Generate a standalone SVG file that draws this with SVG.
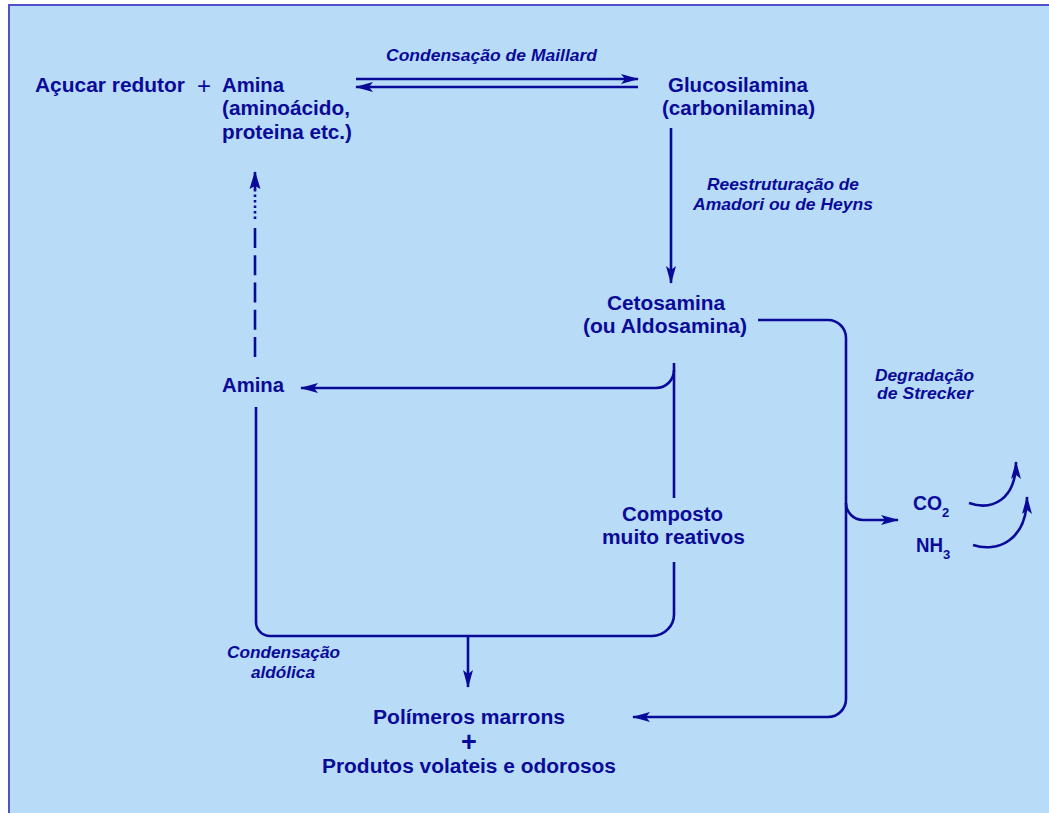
<svg xmlns="http://www.w3.org/2000/svg" width="1049" height="813" viewBox="0 0 1049 813">
<style>
.t{font-family:"Liberation Sans",Arial,sans-serif;font-weight:bold;fill:#0a0a99;font-size:20px}
.i{font-family:"Liberation Sans",Arial,sans-serif;font-weight:bold;font-style:italic;fill:#0a0a99;font-size:17px}
.c{fill:none;stroke:#0a0a99;stroke-width:2.6}
</style>
<defs>
<marker id="ah" markerUnits="userSpaceOnUse" markerWidth="18" markerHeight="11" refX="17" refY="5.5" orient="auto-start-reverse" viewBox="0 0 18 11">
<path d="M0,0.5 L18,5.5 L0,10.5 L4,5.5 z" fill="#0a0a99"/>
</marker>
<marker id="ahw" markerUnits="userSpaceOnUse" markerWidth="18" markerHeight="12" refX="17" refY="6" orient="auto" viewBox="0 0 18 12">
<path d="M0,0.5 L18,6 L0,11.5 L3,6 z" fill="#0a0a99"/>
</marker>
</defs>
<rect x="9" y="5" width="1050" height="820" fill="#b8dbf7" stroke="#5050c8" stroke-width="2"/>

<g id="connectors">
<path class="c" d="M356,79 H638" marker-end="url(#ah)"/>
<path class="c" d="M638,87 H356" marker-end="url(#ah)"/>
<path class="c" d="M671,128 V283" marker-end="url(#ah)"/>
<path class="c" d="M758,320 H828 A18,18 0 0 1 846,338 V699 A18,18 0 0 1 828,717 H633" marker-end="url(#ah)"/>
<path class="c" d="M846,503 A17,17 0 0 0 863,520 H898" marker-end="url(#ah)"/>
<path class="c" d="M969,503 C992,511 1016,500 1016,462" marker-end="url(#ah)"/>
<path class="c" d="M973,545 C997,553 1027,541 1027,497" marker-end="url(#ah)"/>
<path class="c" d="M674,363 V498"/>
<path class="c" d="M674,370 A18,18 0 0 1 656,388 H301" marker-end="url(#ah)"/>
<path class="c" d="M674,562 V613 A22,22 0 0 1 652,636 H270 A14,14 0 0 1 256,622 V407"/>
<path class="c" d="M468,636 V687" marker-end="url(#ah)"/>
<path class="c" d="M255,357 V228" stroke-dasharray="20 7.25"/>
<path class="c" d="M255,219 V187" stroke-dasharray="2.5 3"/>
<path class="c" d="M255,190 V172" stroke="none" marker-end="url(#ahw)"/>
</g>

<g id="acucar"><text class="t" x="35" y="92" textLength="150" lengthAdjust="spacingAndGlyphs">Açucar redutor</text></g>
<g id="plus1"><text x="197" y="94" style="font-family:'Liberation Sans',Arial,sans-serif;font-size:24px;fill:#0a0a99">+</text></g>
<g id="amina-top">
<text class="t" x="222" y="92" textLength="62" lengthAdjust="spacingAndGlyphs">Amina</text>
<text class="t" x="222" y="115" textLength="128" lengthAdjust="spacingAndGlyphs">(aminoácido,</text>
<text class="t" x="222" y="139" textLength="130" lengthAdjust="spacingAndGlyphs">proteina etc.)</text>
</g>
<g id="lbl-maillard"><text class="i" x="386" y="61" textLength="211" lengthAdjust="spacingAndGlyphs">Condensação de Maillard</text></g>
<g id="glucosilamina">
<text class="t" x="668" y="92" textLength="140" lengthAdjust="spacingAndGlyphs">Glucosilamina</text>
<text class="t" x="662" y="115" textLength="153" lengthAdjust="spacingAndGlyphs">(carbonilamina)</text>
</g>
<g id="lbl-amadori">
<text class="i" x="707" y="190" textLength="152" lengthAdjust="spacingAndGlyphs">Reestruturação de</text>
<text class="i" x="693" y="210" textLength="180" lengthAdjust="spacingAndGlyphs">Amadori ou de Heyns</text>
</g>
<g id="cetosamina">
<text class="t" x="607" y="310" textLength="118" lengthAdjust="spacingAndGlyphs">Cetosamina</text>
<text class="t" x="583" y="333" textLength="164" lengthAdjust="spacingAndGlyphs">(ou Aldosamina)</text>
</g>
<g id="amina-mid"><text class="t" x="222" y="392" textLength="62" lengthAdjust="spacingAndGlyphs">Amina</text></g>
<g id="lbl-strecker">
<text class="i" x="875" y="381" textLength="99" lengthAdjust="spacingAndGlyphs">Degradação</text>
<text class="i" x="877" y="399" textLength="96" lengthAdjust="spacingAndGlyphs">de Strecker</text>
</g>
<g id="co2">
<text class="t" x="913" y="510" textLength="29" lengthAdjust="spacingAndGlyphs">CO</text>
<text class="t" x="942" y="517" style="font-size:13px">2</text>
</g>
<g id="nh3">
<text class="t" x="916" y="552" textLength="27" lengthAdjust="spacingAndGlyphs">NH</text>
<text class="t" x="943" y="559" style="font-size:13px">3</text>
</g>
<g id="composto">
<text class="t" x="622" y="521" textLength="101" lengthAdjust="spacingAndGlyphs">Composto</text>
<text class="t" x="602" y="544" textLength="143" lengthAdjust="spacingAndGlyphs">muito reativos</text>
</g>
<g id="lbl-aldolica">
<text class="i" x="227" y="658" textLength="113" lengthAdjust="spacingAndGlyphs">Condensação</text>
<text class="i" x="251" y="678" textLength="64" lengthAdjust="spacingAndGlyphs">aldólica</text>
</g>
<g id="produtos">
<text class="t" x="373" y="724" textLength="192" lengthAdjust="spacingAndGlyphs">Polímeros marrons</text>
<text class="t" x="469" y="751" text-anchor="middle" style="font-size:27px">+</text>
<text class="t" x="322" y="773" textLength="294" lengthAdjust="spacingAndGlyphs">Produtos volateis e odorosos</text>
</g>
</svg>
